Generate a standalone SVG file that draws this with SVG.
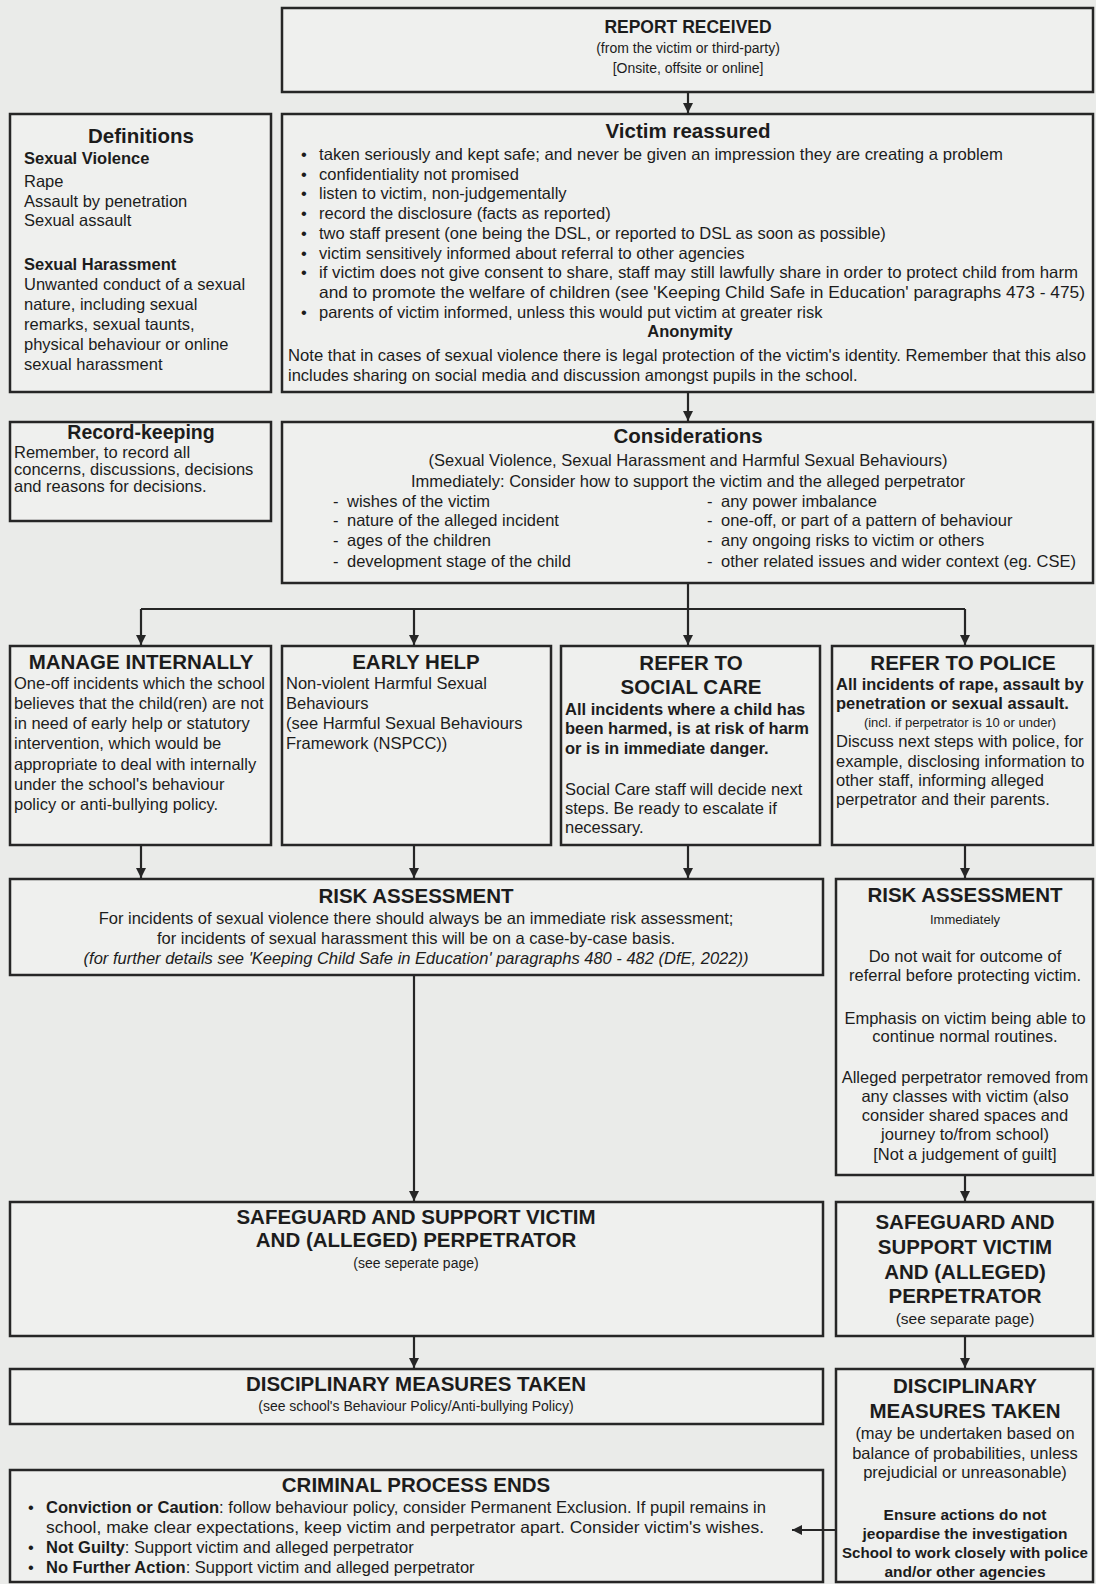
<svg xmlns="http://www.w3.org/2000/svg" width="1096" height="1584" viewBox="0 0 1096 1584">
<defs>
<style>
.bg{fill:#eaebe9}
.box{fill:#eff0ee;stroke:#262626;stroke-width:2.5}
text{font-family:"Liberation Sans",Arial,"DejaVu Sans",sans-serif;fill:#1c1c1c;font-size:16.5px}
.h{font-weight:bold;font-size:20.5px}
.b{font-weight:bold}
.c{text-anchor:middle}
.s{font-size:14px}
.xs{font-size:13px}
.i{font-style:italic}
.m{font-size:15.5px}
.conn line{stroke:#262626;stroke-width:2.2;fill:none}
</style>
<marker id="ah" viewBox="0 0 10 10" refX="10" refY="5" markerWidth="10" markerHeight="11" markerUnits="userSpaceOnUse" orient="auto">
<path d="M0,0 L10,5 L0,10 z" fill="#262626"/>
</marker>
</defs>
<rect class="bg" x="0" y="0" width="1096" height="1584"/>

<g id="report-received">
<rect class="box" x="282" y="8" width="811" height="84"/>
<text class="b c" x="688" y="33" style="font-size:17.5px">REPORT RECEIVED</text>
<text class="c s" x="688" y="53">(from the victim or third-party)</text>
<text class="c s" x="688" y="73">[Onsite, offsite or online]</text>
</g>

<g id="definitions">
<rect class="box" x="10" y="114" width="261" height="278"/>
<text class="h c" x="141" y="143">Definitions</text>
<text class="b" x="24" y="164">Sexual Violence</text>
<text x="24" y="187">Rape</text>
<text x="24" y="207">Assault by penetration</text>
<text x="24" y="226">Sexual assault</text>
<text class="b" x="24" y="270">Sexual Harassment</text>
<text x="24" y="290">Unwanted conduct of a sexual</text>
<text x="24" y="310">nature, including sexual</text>
<text x="24" y="330">remarks, sexual taunts,</text>
<text x="24" y="350">physical behaviour or online</text>
<text x="24" y="370">sexual harassment</text>
</g>

<g id="victim-reassured">
<rect class="box" x="282" y="114" width="811" height="278"/>
<text class="h c" x="688" y="138">Victim reassured</text>
<text x="301" y="160">•</text><text x="319" y="160" textLength="684" lengthAdjust="spacingAndGlyphs">taken seriously and kept safe; and never be given an impression they are creating a problem</text>
<text x="301" y="180">•</text><text x="319" y="180">confidentiality not promised</text>
<text x="301" y="199">•</text><text x="319" y="199">listen to victim, non-judgementally</text>
<text x="301" y="219">•</text><text x="319" y="219">record the disclosure (facts as reported)</text>
<text x="301" y="239">•</text><text x="319" y="239">two staff present (one being the DSL, or reported to DSL as soon as possible)</text>
<text x="301" y="259">•</text><text x="319" y="259">victim sensitively informed about referral to other agencies</text>
<text x="301" y="278">•</text><text x="319" y="278" textLength="759" lengthAdjust="spacingAndGlyphs">if victim does not give consent to share, staff may still lawfully share in order to protect child from harm</text>
<text x="319" y="298" textLength="766" lengthAdjust="spacingAndGlyphs">and to promote the welfare of children (see 'Keeping Child Safe in Education' paragraphs 473 - 475)</text>
<text x="301" y="318">•</text><text x="319" y="318">parents of victim informed, unless this would put victim at greater risk</text>
<text class="b c" x="690" y="337">Anonymity</text>
<text x="288" y="361" textLength="798" lengthAdjust="spacingAndGlyphs">Note that in cases of sexual violence there is legal protection of the victim's identity. Remember that this also</text>
<text x="288" y="381">includes sharing on social media and discussion amongst pupils in the school.</text>
</g>

<g id="record-keeping">
<rect class="box" x="10" y="422" width="261" height="99"/>
<text class="h c" x="141" y="439" style="font-size:19.5px">Record-keeping</text>
<text x="14" y="458">Remember, to record all</text>
<text x="14" y="475">concerns, discussions, decisions</text>
<text x="14" y="492">and reasons for decisions.</text>
</g>

<g id="considerations">
<rect class="box" x="282" y="422" width="811" height="161"/>
<text class="h c" x="688" y="443">Considerations</text>
<text class="c" x="688" y="466">(Sexual Violence, Sexual Harassment and Harmful Sexual Behaviours)</text>
<text class="c" x="688" y="487">Immediately: Consider how to support the victim and the alleged perpetrator</text>
<text x="333" y="507">-</text><text x="347" y="507">wishes of the victim</text>
<text x="333" y="526">-</text><text x="347" y="526">nature of the alleged incident</text>
<text x="333" y="546">-</text><text x="347" y="546">ages of the children</text>
<text x="333" y="567">-</text><text x="347" y="567">development stage of the child</text>
<text x="707" y="507">-</text><text x="721" y="507">any power imbalance</text>
<text x="707" y="526">-</text><text x="721" y="526">one-off, or part of a pattern of behaviour</text>
<text x="707" y="546">-</text><text x="721" y="546">any ongoing risks to victim or others</text>
<text x="707" y="567">-</text><text x="721" y="567">other related issues and wider context (eg. CSE)</text>
</g>

<g id="manage-internally">
<rect class="box" x="10" y="646" width="261" height="199"/>
<text class="h c" x="141" y="669">MANAGE INTERNALLY</text>
<text x="14" y="689">One-off incidents which the school</text>
<text x="14" y="709">believes that the child(ren) are not</text>
<text x="14" y="729">in need of early help or statutory</text>
<text x="14" y="749">intervention, which would be</text>
<text x="14" y="770">appropriate to deal with internally</text>
<text x="14" y="790">under the school's behaviour</text>
<text x="14" y="810">policy or anti-bullying policy.</text>
</g>

<g id="early-help">
<rect class="box" x="282" y="646" width="269" height="199"/>
<text class="h c" x="416" y="669">EARLY HELP</text>
<text x="286" y="689">Non-violent Harmful Sexual</text>
<text x="286" y="709">Behaviours</text>
<text x="286" y="729">(see Harmful Sexual Behaviours</text>
<text x="286" y="749">Framework (NSPCC))</text>
</g>

<g id="social-care">
<rect class="box" x="561" y="646" width="259" height="199"/>
<text class="h c" x="691" y="670">REFER TO</text>
<text class="h c" x="691" y="694">SOCIAL CARE</text>
<text class="b" x="565" y="715">All incidents where a child has</text>
<text class="b" x="565" y="734">been harmed, is at risk of harm</text>
<text class="b" x="565" y="754">or is in immediate danger.</text>
<text x="565" y="795">Social Care staff will decide next</text>
<text x="565" y="814">steps. Be ready to escalate if</text>
<text x="565" y="833">necessary.</text>
</g>

<g id="refer-police">
<rect class="box" x="832" y="646" width="261" height="199"/>
<text class="h c" x="963" y="670">REFER TO POLICE</text>
<text class="b" x="836" y="690">All incidents of rape, assault by</text>
<text class="b" x="836" y="709">penetration or sexual assault.</text>
<text class="c xs" x="960" y="727">(incl. if perpetrator is 10 or under)</text>
<text x="836" y="747">Discuss next steps with police, for</text>
<text x="836" y="767">example, disclosing information to</text>
<text x="836" y="786">other staff, informing alleged</text>
<text x="836" y="805">perpetrator and their parents.</text>
</g>

<g id="risk-assessment">
<rect class="box" x="10" y="879" width="813" height="96"/>
<text class="h c" x="416" y="903">RISK ASSESSMENT</text>
<text class="c" x="416" y="924">For incidents of sexual violence there should always be an immediate risk assessment;</text>
<text class="c" x="416" y="944">for incidents of sexual harassment this will be on a case-by-case basis.</text>
<text class="c i" x="416" y="964">(for further details see 'Keeping Child Safe in Education' paragraphs 480 - 482 (DfE, 2022))</text>
</g>

<g id="risk-assessment-police">
<rect class="box" x="836" y="879" width="257" height="296"/>
<text class="h c" x="965" y="902">RISK ASSESSMENT</text>
<text class="c xs" x="965" y="924">Immediately</text>
<text class="c" x="965" y="962">Do not wait for outcome of</text>
<text class="c" x="965" y="981">referral before protecting victim.</text>
<text class="c" x="965" y="1024">Emphasis on victim being able to</text>
<text class="c" x="965" y="1042">continue normal routines.</text>
<text class="c" x="965" y="1083">Alleged perpetrator removed from</text>
<text class="c" x="965" y="1102">any classes with victim (also</text>
<text class="c" x="965" y="1121">consider shared spaces and</text>
<text class="c" x="965" y="1140">journey to/from school)</text>
<text class="c" x="965" y="1160">[Not a judgement of guilt]</text>
</g>

<g id="safeguard">
<rect class="box" x="10" y="1202" width="813" height="134"/>
<text class="h c" x="416" y="1224">SAFEGUARD AND SUPPORT VICTIM</text>
<text class="h c" x="416" y="1247">AND (ALLEGED) PERPETRATOR</text>
<text class="c s" x="416" y="1268">(see seperate page)</text>
</g>

<g id="safeguard-police">
<rect class="box" x="836" y="1202" width="257" height="134"/>
<text class="h c" x="965" y="1229">SAFEGUARD AND</text>
<text class="h c" x="965" y="1254">SUPPORT VICTIM</text>
<text class="h c" x="965" y="1279">AND (ALLEGED)</text>
<text class="h c" x="965" y="1303">PERPETRATOR</text>
<text class="c m" x="965" y="1324">(see separate page)</text>
</g>

<g id="disciplinary">
<rect class="box" x="10" y="1369" width="813" height="55"/>
<text class="h c" x="416" y="1391">DISCIPLINARY MEASURES TAKEN</text>
<text class="c s" x="416" y="1411">(see school's Behaviour Policy/Anti-bullying Policy)</text>
</g>

<g id="disciplinary-police">
<rect class="box" x="836" y="1369" width="257" height="213"/>
<text class="h c" x="965" y="1393">DISCIPLINARY</text>
<text class="h c" x="965" y="1418">MEASURES TAKEN</text>
<text class="c" x="965" y="1439">(may be undertaken based on</text>
<text class="c" x="965" y="1459">balance of probabilities, unless</text>
<text class="c" x="965" y="1478">prejudicial or unreasonable)</text>
<text class="c b m" x="965" y="1520">Ensure actions do not</text>
<text class="c b m" x="965" y="1539">jeopardise the investigation</text>
<text class="c b m" x="965" y="1558" textLength="246" lengthAdjust="spacingAndGlyphs">School to work closely with police</text>
<text class="c b m" x="965" y="1577">and/or other agencies</text>
</g>

<g id="criminal-process">
<rect class="box" x="10" y="1470" width="813" height="112"/>
<text class="h c" x="416" y="1492">CRIMINAL PROCESS ENDS</text>
<text x="28" y="1513">•</text><text x="46" y="1513" textLength="720" lengthAdjust="spacingAndGlyphs"><tspan class="b">Conviction or Caution</tspan>: follow behaviour policy, consider Permanent Exclusion. If pupil remains in</text>
<text x="46" y="1533" textLength="718" lengthAdjust="spacingAndGlyphs">school, make clear expectations, keep victim and perpetrator apart. Consider victim's wishes.</text>
<text x="28" y="1553">•</text><text x="46" y="1553"><tspan class="b">Not Guilty</tspan>: Support victim and alleged perpetrator</text>
<text x="28" y="1573">•</text><text x="46" y="1573"><tspan class="b">No Further Action</tspan>: Support victim and alleged perpetrator</text>
</g>

<g id="connectors" class="conn">
<line x1="688" y1="92" x2="688" y2="113" marker-end="url(#ah)"/>
<line x1="688" y1="392" x2="688" y2="421" marker-end="url(#ah)"/>
<line x1="688" y1="583" x2="688" y2="609"/>
<line x1="141" y1="609" x2="965" y2="609"/>
<line x1="141" y1="609" x2="141" y2="645" marker-end="url(#ah)"/>
<line x1="414" y1="609" x2="414" y2="645" marker-end="url(#ah)"/>
<line x1="688" y1="609" x2="688" y2="645" marker-end="url(#ah)"/>
<line x1="965" y1="609" x2="965" y2="645" marker-end="url(#ah)"/>
<line x1="141" y1="845" x2="141" y2="878" marker-end="url(#ah)"/>
<line x1="414" y1="845" x2="414" y2="878" marker-end="url(#ah)"/>
<line x1="688" y1="845" x2="688" y2="878" marker-end="url(#ah)"/>
<line x1="965" y1="845" x2="965" y2="878" marker-end="url(#ah)"/>
<line x1="414" y1="975" x2="414" y2="1201" marker-end="url(#ah)"/>
<line x1="965" y1="1175" x2="965" y2="1201" marker-end="url(#ah)"/>
<line x1="414" y1="1336" x2="414" y2="1368" marker-end="url(#ah)"/>
<line x1="965" y1="1336" x2="965" y2="1368" marker-end="url(#ah)"/>
<line x1="836" y1="1530" x2="792" y2="1530" marker-end="url(#ah)"/>
</g>
</svg>
